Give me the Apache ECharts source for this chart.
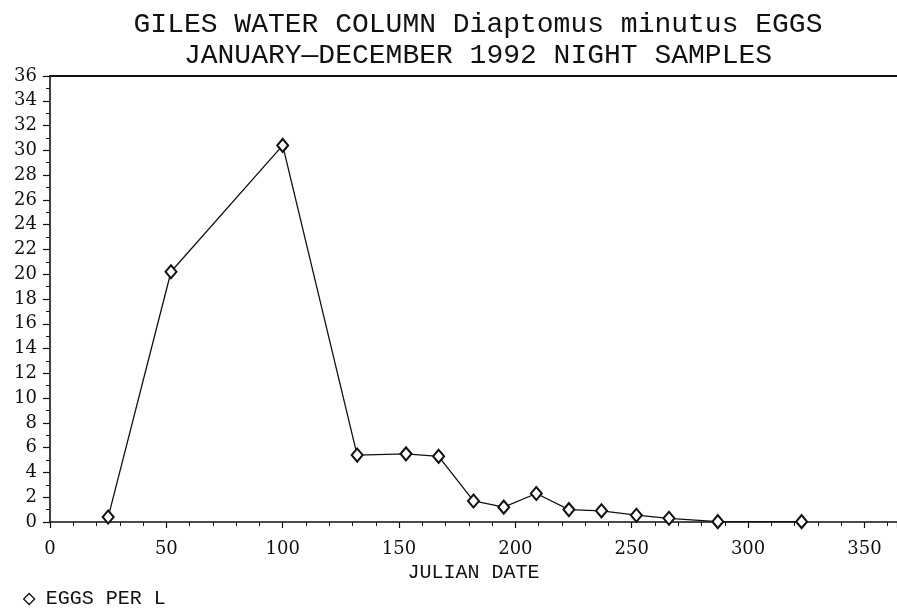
<!DOCTYPE html>
<html>
<head>
<meta charset="utf-8">
<script src="https://cdn.jsdelivr.net/npm/echarts@6/dist/echarts.min.js"></script>
<style>
  html, body { margin: 0; padding: 0; background: #fff; }
  #main { width: 897px; height: 609px; }
</style>
</head>
<body>
<div id="main"></div>
<script>
// julian day of each night sample and eggs per litre
var julianDays = [25, 52, 100, 132, 153, 167, 182, 195, 209, 223, 237, 252, 266, 287, 323];
var eggsPerL = [0.4, 20.2, 30.4, 5.4, 5.5, 5.3, 1.7, 1.2, 2.3, 1.0, 0.9, 0.55, 0.3, 0.03, 0.03];

var titleLines = ['GILES WATER COLUMN Diaptomus minutus EGGS', 'JANUARY\u2014DECEMBER 1992 NIGHT SAMPLES'];
var seriesName = 'EGGS PER L';
var xName = 'JULIAN DATE';

var points = julianDays.map(function (d, i) { return [d, eggsPerL[i]]; });

var mono = '"Liberation Mono", monospace';
var serif = '"DejaVu Serif", serif';

var myChart = echarts.init(document.getElementById('main'));
myChart.setOption({
  animation: false,
  backgroundColor: '#fff',
  title: {
    text: titleLines.join('\n'),
    left: 473,
    top: 4,
    textAlign: 'center',
    textStyle: { fontFamily: mono, fontWeight: 'normal', fontSize: 28, lineHeight: 31, color: '#111' }
  },
  legend: {
    left: 18,
    top: 584,
    icon: 'diamond',
    itemWidth: 11,
    itemHeight: 11,
    itemStyle: { color: '#fff', borderColor: '#111', borderWidth: 1.3 },
    textStyle: { fontFamily: mono, fontSize: 20, color: '#111', padding: [0, 0, 0, 6] },
    data: [seriesName]
  },
  grid: { left: 50, right: 0, top: 76, bottom: 87, outerBoundsMode: 'none', containLabel: false },
  xAxis: [
    {
      type: 'value',
      min: 0,
      max: 364,
      interval: 50,
      name: xName,
      nameLocation: 'middle',
      nameGap: 39,
      nameTextStyle: { fontFamily: mono, fontSize: 20, color: '#111' },
      splitLine: { show: false },
      axisLine: { onZero: false, lineStyle: { color: '#111', width: 1.6 } },
      axisTick: { length: 6, lineStyle: { color: '#111', width: 1.2 } },
      minorTick: { show: true, splitNumber: 5, length: 4, lineStyle: { color: '#111', width: 1 } },
      axisLabel: { margin: 18, fontFamily: serif, fontSize: 18, color: '#111' }
    },
    {
      type: 'value',
      position: 'top',
      min: 0,
      max: 364,
      splitLine: { show: false },
      axisLine: { show: true, onZero: false, lineStyle: { color: '#111', width: 2 } },
      axisTick: { show: false },
      axisLabel: { show: false }
    }
  ],
  yAxis: {
    type: 'value',
    min: 0,
    max: 36,
    interval: 2,
    splitLine: { show: false },
    axisLine: { show: true, onZero: false, lineStyle: { color: '#111', width: 1.6 } },
    axisTick: { length: 7, lineStyle: { color: '#111', width: 1.2 } },
    minorTick: { show: true, splitNumber: 2, length: 4, lineStyle: { color: '#111', width: 1 } },
    axisLabel: { margin: 13, fontFamily: serif, fontSize: 18, color: '#111' }
  },
  series: [
    {
      name: seriesName,
      type: 'line',
      data: points,
      symbol: 'emptyDiamond',
      symbolSize: [11, 13],
      lineStyle: { color: '#111', width: 1.3 },
      itemStyle: { color: '#111', borderWidth: 1.3 }
    }
  ]
});
</script>
</body>
</html>
